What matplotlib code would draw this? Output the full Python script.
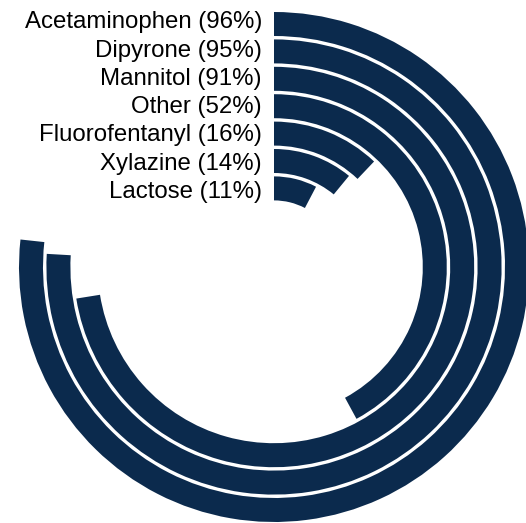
import matplotlib
matplotlib.use('Agg')
import matplotlib.pyplot as plt
from matplotlib.patches import Wedge

# Data
labels = ["Acetaminophen", "Dipyrone", "Mannitol", "Other", "Fluorofentanyl", "Xylazine", "Lactose"]
label_pcts = [96, 95, 91, 52, 16, 14, 11]
# bar lengths (percent)
values = [95.9, 94.9, 90.6, 52.6, 15.1, 13.7, 9.6]

bar_color = '#0b2a4d'

# Ring geometry (pixel-like data units); 100% = 288 degrees
cx, cy = 274, 256
outer_r = 255
step = 27.4
thickness = 24
full_sweep = 288

# label baselines (measured from the top of the figure)
label_top = 28.3
label_step = 28.3

fig = plt.figure(figsize=(5.26, 5.23), dpi=100)
ax = fig.add_axes([0, 0, 1, 1])
ax.set_xlim(0, 526)
ax.set_ylim(0, 523)
ax.axis('off')

for i, (label, pct, val) in enumerate(zip(labels, label_pcts, values)):
    r = outer_r - step * i
    sweep = val / 100 * full_sweep
    ax.add_patch(Wedge((cx, cy), r, 90 - sweep, 90, width=thickness,
                       facecolor=bar_color, edgecolor='none'))
    ax.text(cx - 12, 523 - (label_top + label_step * i), f"{label} ({pct}%)",
            ha='right', va='baseline', fontsize=17.3, family='Liberation Sans', color='#000000')

plt.savefig('out.png', dpi=100)
plt.close()
